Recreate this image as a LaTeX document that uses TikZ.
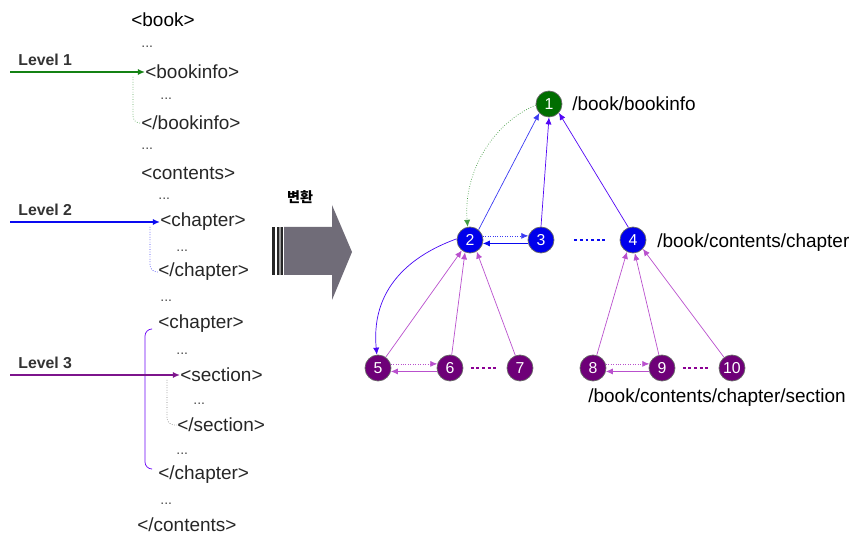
\documentclass[tikz,border=0pt]{standalone}
\usepackage{fontspec}
\setmainfont{Liberation Sans}
\newfontfamily\korfont{Noto Sans CJK KR}
\usetikzlibrary{arrows.meta}
\definecolor{lvgreen}{RGB}{20,130,20}
\definecolor{lvblue}{RGB}{10,10,240}
\definecolor{lvpurple}{RGB}{125,20,140}
\definecolor{nodegreen}{RGB}{0,110,0}
\definecolor{nodeblue}{RGB}{0,0,235}
\definecolor{nodepurple}{RGB}{110,0,120}
\definecolor{linkpink}{RGB}{185,80,205}
\definecolor{arrowgray}{RGB}{112,108,120}

\begin{document}
\begin{tikzpicture}[x=0.02cm, y=-0.02cm,
    every node/.style={font=\fontsize{10.8}{12}\selectfont, inner sep=0pt},
    tag/.style={anchor=west, text=black!85},
    etc/.style={anchor=west, font=\fontsize{8}{8}\selectfont, text=black!70},
    lvl/.style={anchor=south west, font=\fontsize{9}{10}\selectfont\bfseries, text=black!80},
    elem/.style={circle, draw=black!60, minimum size=0.52cm, text=white,
                 font=\fontsize{9}{9}\selectfont},
    tip/.style={-{Latex[length=4pt,width=3.5pt]}},
    link/.style={tip, linkpink, thin},
    gap/.style={line width=1.6pt, dash pattern=on 1.6pt off 1.6pt}]
  \useasboundingbox (0,0) rectangle (850,537);

  % xml source
  \node (book) at (163,20) {<book>};
  \node[etc] (d0) at (141,47) {...};
  \node[tag] (binfo) at (145,72) {<bookinfo>};
  \node[etc] (d1) at (160,99) {...};
  \node[tag] (binfoend) at (141,123) {</bookinfo>};
  \node[etc] (d2) at (141,149) {...};
  \node[tag] (cont) at (141,173) {<contents>};
  \node[etc] (d3) at (158,199) {...};
  \node[tag] (chap) at (160,222) {<chapter>};
  \node[etc] (d4) at (176,251) {...};
  \node[tag] (chapend) at (158,272) {</chapter>};
  \node[etc] (d5) at (160,301) {...};
  \node[tag] (chapb) at (158,324) {<chapter>};
  \node[etc] (d6) at (176,354) {...};
  \node[tag] (sec) at (180,375) {<section>};
  \node[etc] (d7) at (193,404) {...};
  \node[tag] (secend) at (177,425) {</section>};
  \node[etc] (d8) at (176,454) {...};
  \node[tag] (chapbend) at (158,475) {</chapter>};
  \node[etc] (d9) at (160,504) {...};
  \node[tag] (contend) at (137,525) {</contents>};

  % levels
  \coordinate (lv1) at (10,72);
  \coordinate (lv2) at (10,222);
  \coordinate (lv3) at (10,375);
  \node[lvl] at (18,66) {Level 1};
  \node[lvl] at (18,216) {Level 2};
  \node[lvl] at (18,369) {Level 3};
  \draw[lvgreen, line width=1.2pt, tip] (lv1) -- (binfo.west);
  \draw[lvblue, line width=1.2pt, tip] (lv2) -- (chap.west);
  \draw[lvgreen!70, densely dotted, rounded corners=4pt] (133,77) |- (binfoend.west);
  \draw[lvblue!80, densely dotted, rounded corners=4pt] (150,227) |- (chapend.west);
  \draw[lvblue!60!magenta, rounded corners=4pt] (151,329) -| (145,400) |- (151,469);
  \draw[black!50, densely dotted, rounded corners=4pt] (167,380) |- (secend.west);
  \draw[lvpurple, line width=1.2pt, tip] (lv3) -- (sec.west);

  % transform arrow
  \fill[arrowgray] (284,227) -- (332,227) -- (332,205) -- (352,252)
                   -- (332,300) -- (332,275) -- (284,275) -- cycle;
  \foreach \x/\w in {272/3, 277/2, 281/2}
    \fill[black!85] (\x,227) rectangle ++(\w,48);
  \fill[black!40] (279,227) rectangle ++(2,48);
  \node[font=\korfont\fontsize{8}{8}\selectfont\bfseries] (conv) at (300,197) {변환};

  % tree
  \node[elem, fill=nodegreen] (n1) at (549,104) {1};
  \node[elem, fill=nodeblue] (n2) at (470,240) {2};
  \node[elem, fill=nodeblue] (n3) at (541,240) {3};
  \node[elem, fill=nodeblue] (n4) at (633,240) {4};
  \node[elem, fill=nodepurple] (n5) at (378,368) {5};
  \node[elem, fill=nodepurple] (n6) at (450,368) {6};
  \node[elem, fill=nodepurple] (n7) at (520,368) {7};
  \node[elem, fill=nodepurple] (n8) at (593,368) {8};
  \node[elem, fill=nodepurple] (n9) at (662,368) {9};
  \node[elem, fill=nodepurple] (n10) at (732,368) {10};
  \node[anchor=west] (p1) at (572,104) {/book/bookinfo};
  \node[anchor=west] (p2) at (657,243) {/book/contents/chapter};
  \node[anchor=west] (p3) at (588,398) {/book/contents/chapter/section};

  \draw[gap, lvblue, shorten <=0.4cm, shorten >=0.26cm] (n3) -- (n4);
  \draw[gap, nodepurple!80!magenta, shorten <=0.15cm, shorten >=0.18cm] (n6) -- (n7);
  \draw[gap, nodepurple!80!magenta, shorten <=0.15cm, shorten >=0.18cm] (n9) -- (n10);

  \draw[tip, lvgreen!80, densely dotted] (n1.185) .. controls (495,122) and (463,170) .. (n2.100);
  \draw[tip, lvblue!80] (n2.50) -- (n1.223);
  \draw[tip, lvblue!70!magenta] (n3.north) -- (n1.270);
  \draw[tip, lvblue!70!magenta] (n4.110) -- (n1.318);
  \draw[tip, lvblue!80, densely dotted] (n2.18) -- (n3.162);
  \draw[tip, lvblue] (n3.195) -- (n2.-15);
  \draw[tip, lvblue!75!magenta] (n2.175) .. controls (420,252) and (370,282) .. (n5.95);

  \draw[link] (n5) -- (n2.232);
  \draw[link] (n6) -- (n2.248);
  \draw[link] (n7) -- (n2.300);
  \draw[link] (n8) -- (n4.243);
  \draw[link] (n9) -- (n4.278);
  \draw[link] (n10) -- (n4.318);
  \draw[link, densely dotted] (n5.18) -- (n6.162);
  \draw[link] (n6.195) -- (n5.-15);
  \draw[link, densely dotted] (n8.18) -- (n9.162);
  \draw[link] (n9.195) -- (n8.-15);
\end{tikzpicture}
\end{document}
